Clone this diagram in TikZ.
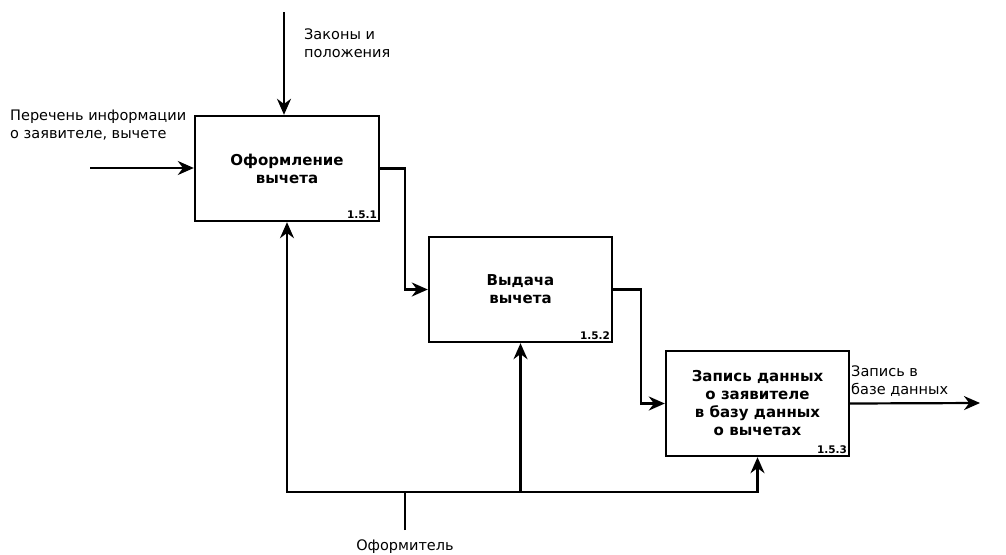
\documentclass[tikz,border=0pt]{standalone}
\usepackage{fontspec}
\setmainfont{DejaVu Sans}
\usetikzlibrary{arrows.meta}
\tikzset{
  func/.style={draw,line width=2.4pt,inner sep=0pt,font=\fontsize{15}{18}\selectfont\bfseries,align=center},
  num/.style={font=\fontsize{10.5}{12}\selectfont\bfseries,anchor=south east,inner sep=3pt},
  lbl/.style={font=\fontsize{14.5}{17.5}\selectfont,align=left,inner sep=0pt},
  arr/.style={line width=2.2pt,-{Stealth[length=16pt,width=14pt]}},
  ln/.style={line width=2.2pt}
}
\begin{document}
\begin{tikzpicture}[x=1pt,y=-1pt]
\useasboundingbox (0,0) rectangle (1006,554);
% boxes
\node[func,minimum width=184pt,minimum height=105pt] (f1) at (287,168.5) {Оформление\\вычета};
\node[num] at (f1.south east) {1.5.1};
\node[func,minimum width=183pt,minimum height=105pt] (f2) at (520.5,289.5) {Выдача\\вычета};
\node[num] at (f2.south east) {1.5.2};
\node[func,minimum width=183pt,minimum height=105pt] (f3) at (757.5,403.5) {Запись данных\\о заявителе\\в базу данных\\о вычетах};
\node[num] at (f3.south east) {1.5.3};
% free ends
\coordinate (ctl) at (284,12);
\coordinate (inp) at (90,168);
\coordinate (out) at (980,403);
\coordinate (mech) at (405,530);
\coordinate (bus) at (405,492);
% labels
\node[lbl,anchor=north west] (lctl) at (304,29) {Законы и\\положения};
\node[lbl,anchor=north west] (linp) at (10,110) {Перечень информации\\о заявителе, вычете};
\node[lbl,anchor=north west] (lout) at (851,366) {Запись в\\базе данных};
\node[lbl,anchor=north] (lmech) at (405,540) {Оформитель};
% arrows
\draw[arr] (ctl) -- (ctl |- f1.north);
\draw[arr] (inp) -- (inp -| f1.west);
\draw[arr] (f1.east) -- ++(25,0) |- (f2.west);
\draw[arr] (f2.east) -- ++(28,0) |- (f3.west);
\draw[arr] (f3.east) -- (out);
\draw[ln] (mech) -- (bus);
\draw[arr] (bus) -| (f1.south);
\draw[arr] (bus) -| (f3.south);
\draw[arr] (f2.south |- bus) -- (f2.south);
\end{tikzpicture}
\end{document}
